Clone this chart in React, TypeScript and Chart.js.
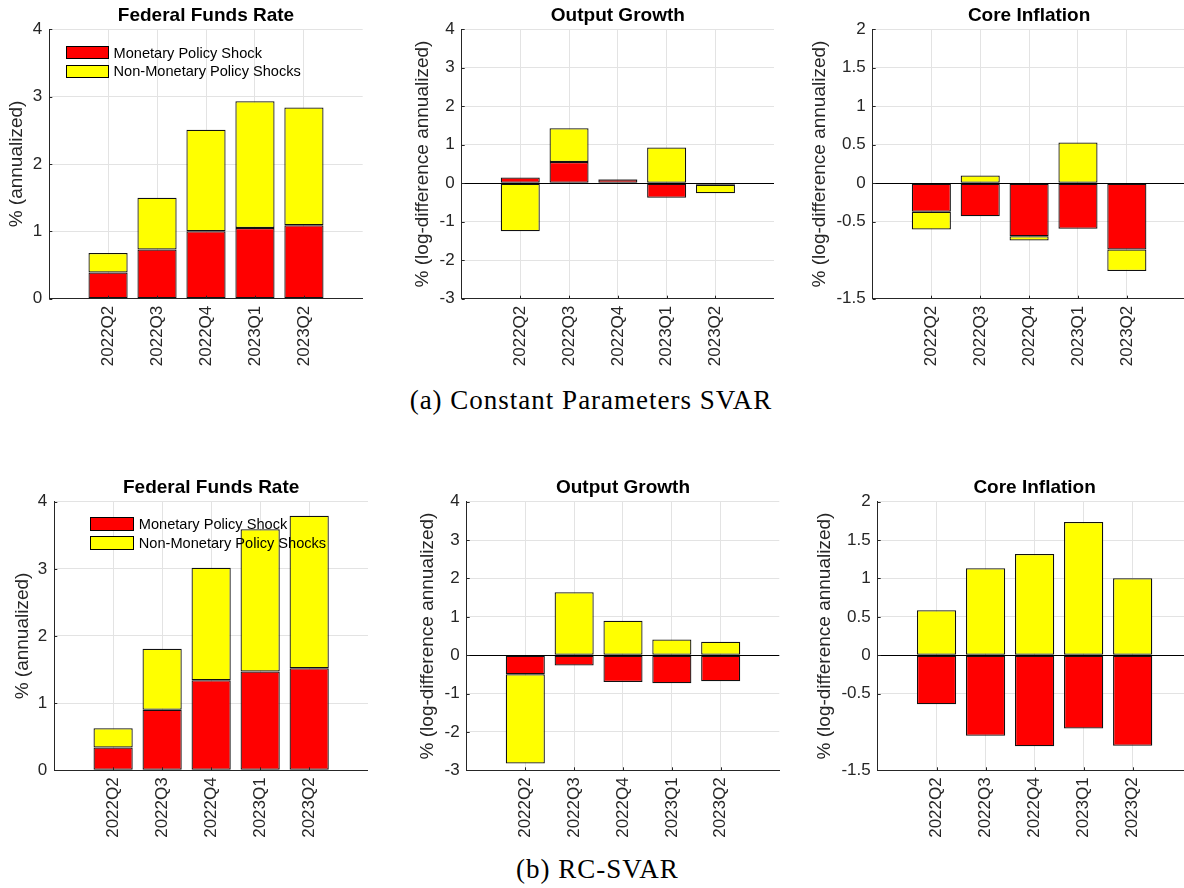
import React, { useEffect, useRef } from 'react';
import { Chart, registerables } from 'chart.js';

Chart.register(...registerables);

// ---------- data ----------
const categories = ['2022Q2', '2022Q3', '2022Q4', '2023Q1', '2023Q2'];
const categoryPositions = [1, 2, 3, 4, 5];

const seriesLabels = ['Monetary Policy Shock', 'Non-Monetary Policy Shocks'];
const panelTitles = ['Federal Funds Rate', 'Output Growth', 'Core Inflation'];
const yAxisLabels = ['% (annualized)', '% (log-difference annualized)', '% (log-difference annualized)'];
const captions = ['(a) Constant Parameters SVAR', '(b) RC-SVAR'];

// (a) Constant Parameters SVAR
const ffrMonetaryA = [0.39, 0.73, 1.0, 1.05, 1.09];
const ffrNonMonetaryA = [0.29, 0.77, 1.51, 1.88, 1.75];
const outputMonetaryA = [0.15, 0.55, 0.1, -0.38, -0.04];
const outputNonMonetaryA = [-1.25, 0.88, 0.01, 0.93, -0.22];
const inflationMonetaryA = [-0.37, -0.43, -0.69, -0.59, -0.86];
const inflationNonMonetaryA = [-0.23, 0.1, -0.055, 0.53, -0.28];

// (b) RC-SVAR
const ffrMonetaryB = [0.34, 0.9, 1.34, 1.47, 1.52];
const ffrNonMonetaryB = [0.285, 0.91, 1.675, 2.12, 2.27];
const outputMonetaryB = [-0.5, -0.27, -0.7, -0.73, -0.68];
const outputNonMonetaryB = [-2.32, 1.64, 0.9, 0.41, 0.35];
const inflationMonetaryB = [-0.64, -1.05, -1.185, -0.955, -1.18];
const inflationNonMonetaryB = [0.586, 1.133, 1.32, 1.736, 1.003];

// tick values
const ffrTicks = [0, 1, 2, 3, 4];
const outputTicks = [-3, -2, -1, 0, 1, 2, 3, 4];
const inflationTicks = [-1.5, -0.5, 0, 0.5, 1, 1.5, 2];

// ---------- styles ----------
const SANS = "'Liberation Sans', Arial, Helvetica, sans-serif";
const SERIF = "'Liberation Serif', 'Times New Roman', serif";
const RED = '#ff0000';
const YELLOW = '#ffff00';
const GRID = '#e3e3e3';
const AXIS = '#262626';
const EDGE = '#111111';

type Geo = { cx: number; cy: number; L: number; T: number; R: number; B: number; titleCY: number; ylabCX: number };

const innerTicks = {
  id: 'innerTicks',
  afterDatasetsDraw(chart: any) {
    const { ctx, chartArea, scales } = chart;
    const x = scales.x;
    const y = scales.y;
    ctx.save();
    ctx.strokeStyle = AXIS;
    ctx.lineWidth = 1;
    ctx.beginPath();
    x.ticks.forEach((t: any) => {
      const px = Math.round(x.getPixelForValue(t.value)) + 0.5;
      ctx.moveTo(px, chartArea.bottom);
      ctx.lineTo(px, chartArea.bottom - 3);
    });
    y.ticks.forEach((t: any) => {
      const py = Math.round(y.getPixelForValue(t.value)) + 0.5;
      ctx.moveTo(chartArea.left, py);
      ctx.lineTo(chartArea.left + 3, py);
    });
    ctx.stroke();
    ctx.restore();
  },
};

function Panel(props: {
  g: Geo;
  title: string;
  yLabel: string;
  monetary: number[];
  nonMonetary: number[];
  yTicks: number[];
}) {
  const { g, title, yLabel, monetary, nonMonetary, yTicks } = props;
  const ref = useRef<HTMLCanvasElement>(null);
  const cw = Math.ceil(g.R - g.cx);
  const ch = Math.ceil(g.B - g.cy + 75);

  useEffect(() => {
    const titleLH = 22.8;
    const titlePadTop = g.titleCY - g.cy - titleLH / 2;
    const titlePadBottom = g.T - g.cy - titlePadTop - titleLH;
    const yLH = 22.8;
    const yTitlePad = g.ylabCX - g.cx - yLH / 2;

    const mkData = (vals: number[]) => categoryPositions.map((p, i) => ({ x: p, y: vals[i] }));

    const chart = new Chart(ref.current as HTMLCanvasElement, {
      type: 'bar',
      data: {
        datasets: [
          {
            label: seriesLabels[0],
            data: mkData(monetary),
            backgroundColor: RED,
            borderColor: EDGE,
            borderWidth: 1.25,
            borderSkipped: false,
            categoryPercentage: 1,
            barPercentage: 0.8,
          },
          {
            label: seriesLabels[1],
            data: mkData(nonMonetary),
            backgroundColor: YELLOW,
            borderColor: EDGE,
            borderWidth: 1.25,
            borderSkipped: false,
            categoryPercentage: 1,
            barPercentage: 0.8,
          },
        ],
      } as any,
      options: {
        responsive: false,
        animation: false,
        devicePixelRatio: 1,
        layout: { padding: { left: 0, top: 0, right: g.cx + cw - g.R, bottom: 0 } },
        plugins: {
          legend: { display: false },
          tooltip: { enabled: false },
          title: {
            display: true,
            fullSize: false,
            text: title,
            color: '#000',
            font: { family: SANS, size: 19, weight: 'bold', lineHeight: 1.2 },
            padding: { top: titlePadTop, bottom: titlePadBottom },
          },
        },
        scales: {
          x: {
            type: 'linear',
            min: -0.2,
            max: 6.2,
            offset: false,
            bounds: 'data',
            stacked: true,
            afterBuildTicks: (s: any) => {
              s.ticks = categoryPositions.map((v) => ({ value: v }));
            },
            afterFit: (s: any) => {
              s.height = g.cy + ch - g.B;
            },
            grid: { offset: false, color: GRID, lineWidth: 1, drawTicks: false },
            border: { display: true, color: AXIS, width: 1 },
            ticks: {
              autoSkip: false,
              minRotation: 90,
              maxRotation: 90,
              padding: 7,
              color: AXIS,
              font: { family: SANS, size: 17 },
              callback: (v: any) => {
                const i = categoryPositions.indexOf(Number(v));
                return i >= 0 ? categories[i] : '';
              },
            },
          },
          y: {
            type: 'linear',
            min: yTicks[0],
            max: yTicks[yTicks.length - 1],
            stacked: true,
            bounds: 'data',
            afterBuildTicks: (s: any) => {
              s.ticks = yTicks.map((v) => ({ value: v }));
            },
            afterFit: (s: any) => {
              s.width = g.L - g.cx;
            },
            grid: {
              color: (c: any) => (c.tick && c.tick.value === 0 && yTicks[0] !== 0 ? '#000' : GRID),
              lineWidth: 1,
              drawTicks: false,
            },
            border: { display: true, color: AXIS, width: 1 },
            title: {
              display: true,
              text: yLabel,
              color: AXIS,
              font: { family: SANS, size: 19, lineHeight: 1.2 },
              padding: { top: yTitlePad, bottom: 0 },
            },
            ticks: {
              autoSkip: false,
              padding: 7,
              color: AXIS,
              font: { family: SANS, size: 17 },
              callback: (v: any) => String(v),
            },
          },
        },
      } as any,
      plugins: [innerTicks],
    });
    return () => chart.destroy();
  }, []);

  return (
    <canvas
      ref={ref}
      width={cw}
      height={ch}
      style={{ position: 'absolute', left: g.cx, top: g.cy, width: cw, height: ch }}
    />
  );
}

function Legend(props: { swLeft: number; swW: number; swH: number; rows: number[]; textLeft: number }) {
  const { swLeft, swW, swH, rows, textLeft } = props;
  const colors = [RED, YELLOW];
  return (
    <>
      {rows.map((cy, i) => (
        <React.Fragment key={i}>
          <div
            style={{
              position: 'absolute',
              left: swLeft,
              top: cy - swH / 2,
              width: swW,
              height: swH,
              boxSizing: 'border-box',
              background: colors[i],
              border: '1px solid #000',
            }}
          />
          <div
            style={{
              position: 'absolute',
              left: textLeft,
              top: cy - 10,
              height: 20,
              lineHeight: '20px',
              fontFamily: SANS,
              fontSize: 14.6,
              color: '#000',
              whiteSpace: 'nowrap',
            }}
          >
            {seriesLabels[i]}
          </div>
        </React.Fragment>
      ))}
    </>
  );
}

const geoA: Geo[] = [
  { cx: 0, cy: 0, L: 49.3, T: 29.3, R: 362.7, B: 298.7, titleCY: 16, ylabCX: 16.6 },
  { cx: 400, cy: 0, L: 461.7, T: 29.3, R: 774, B: 298.7, titleCY: 16, ylabCX: 422.5 },
  { cx: 800, cy: 0, L: 872.7, T: 29.3, R: 1185.5, B: 298.7, titleCY: 16, ylabCX: 820 },
];
const geoB: Geo[] = [
  { cx: 0, cy: 470, L: 54.3, T: 501.7, R: 368, B: 770.3, titleCY: 487.8, ylabCX: 22.5 },
  { cx: 400, cy: 470, L: 466.7, T: 501.7, R: 779.3, B: 770.3, titleCY: 487.8, ylabCX: 427.5 },
  { cx: 800, cy: 470, L: 877.7, T: 501.7, R: 1191.5, B: 770.3, titleCY: 487.8, ylabCX: 825 },
];

export default function App() {
  return (
    <div
      style={{
        position: 'absolute',
        left: 0,
        top: 0,
        width: 1184,
        height: 888,
        overflow: 'hidden',
        background: '#fff',
      }}
    >
      <Panel g={geoA[0]} title={panelTitles[0]} yLabel={yAxisLabels[0]} monetary={ffrMonetaryA} nonMonetary={ffrNonMonetaryA} yTicks={ffrTicks} />
      <Panel g={geoA[1]} title={panelTitles[1]} yLabel={yAxisLabels[1]} monetary={outputMonetaryA} nonMonetary={outputNonMonetaryA} yTicks={outputTicks} />
      <Panel g={geoA[2]} title={panelTitles[2]} yLabel={yAxisLabels[2]} monetary={inflationMonetaryA} nonMonetary={inflationNonMonetaryA} yTicks={inflationTicks} />
      <Panel g={geoB[0]} title={panelTitles[0]} yLabel={yAxisLabels[0]} monetary={ffrMonetaryB} nonMonetary={ffrNonMonetaryB} yTicks={ffrTicks} />
      <Panel g={geoB[1]} title={panelTitles[1]} yLabel={yAxisLabels[1]} monetary={outputMonetaryB} nonMonetary={outputNonMonetaryB} yTicks={outputTicks} />
      <Panel g={geoB[2]} title={panelTitles[2]} yLabel={yAxisLabels[2]} monetary={inflationMonetaryB} nonMonetary={inflationNonMonetaryB} yTicks={inflationTicks} />

      <Legend swLeft={65.7} swW={43.6} swH={13.3} rows={[52.5, 71.3]} textLeft={113.5} />
      <Legend swLeft={90} swW={44.3} swH={14} rows={[523.7, 543]} textLeft={138.8} />

      <div
        style={{
          position: 'absolute',
          left: 291,
          top: 385,
          width: 600,
          textAlign: 'center',
          fontFamily: SERIF,
          fontSize: 27,
          letterSpacing: 1,
          lineHeight: '30px',
          color: '#000',
          whiteSpace: 'nowrap',
        }}
      >
        {captions[0]}
      </div>
      <div
        style={{
          position: 'absolute',
          left: 297.5,
          top: 854,
          width: 600,
          textAlign: 'center',
          fontFamily: SERIF,
          fontSize: 27,
          letterSpacing: 1,
          lineHeight: '30px',
          color: '#000',
          whiteSpace: 'nowrap',
        }}
      >
        {captions[1]}
      </div>
    </div>
  );
}
